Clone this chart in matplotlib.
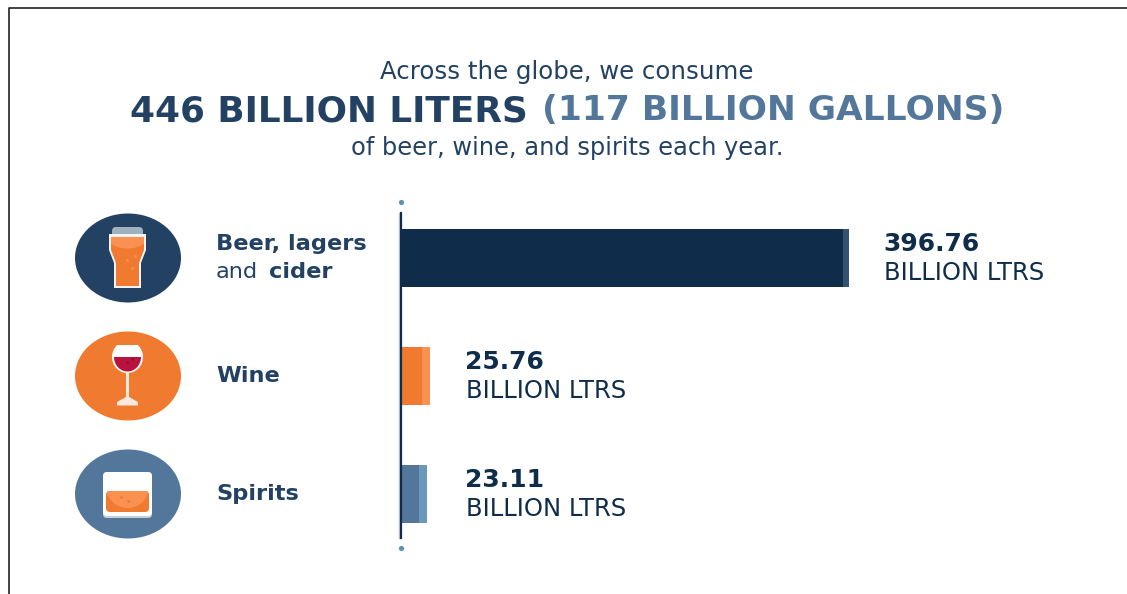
import matplotlib
matplotlib.use('Agg')
import matplotlib.pyplot as plt
from matplotlib.patches import Ellipse, Polygon, Rectangle, FancyBboxPatch

categories = ['Beer', 'Wine', 'Spirits']
values = [396.76, 25.76, 23.11]
value_labels = ['396.76', '25.76', '23.11']
unit_label = 'BILLION LTRS'
label_pads = [34, 35, 38]
tip_widths = [5.3, 7, 7]

NAVY = '#0f2d4a'
DARK_BLUE = '#234263'
STEEL = '#52779a'
ORANGE = '#f07b30'
LIGHT_ORANGE = '#fb9150'
bar_colors = [NAVY, ORANGE, STEEL]
tip_colors = ['#33536f', LIGHT_ORANGE, '#6a97ba']
icon_colors = [DARK_BLUE, ORANGE, STEEL]

W, H = 1127, 594
plt.rcParams['font.family'] = 'DejaVu Sans'

fig = plt.figure(figsize=(W / 100, H / 100), dpi=100, facecolor='white')

# overlay in pixel units for the frame, headline and icons
bg = fig.add_axes([0, 0, 1, 1])
bg.set_xlim(0, W)
bg.set_ylim(H, 0)
bg.axis('off')


def clipped(patch, clip):
    bg.add_patch(patch)
    patch.set_clip_path(clip)
    return patch


bg.plot([8.5, 8.5, W], [H, 7.5, 7.5], color='#222222', lw=1.2)

bg.text(567, 71.5, 'Across the globe, we consume', ha='center', va='center',
        fontsize=17.6, color=DARK_BLUE)
bg.text(130, 111, '446 BILLION LITERS', ha='left', va='center', fontsize=25.8,
        fontweight='bold', color=DARK_BLUE)
bg.text(1004, 111, '(117 BILLION GALLONS)', ha='right', va='center', fontsize=24.8,
        fontweight='bold', color=STEEL)
bg.text(567, 148.5, 'of beer, wine, and spirits each year.', ha='center', va='center',
        fontsize=17.4, color=DARK_BLUE)

# round badges
for cy, c in zip([258, 376, 494], icon_colors):
    bg.add_patch(Ellipse((128, cy), 106, 89, color=c, lw=0))

# pint glass
bg.add_patch(FancyBboxPatch((112, 227), 31, 10, boxstyle='round,pad=0,rounding_size=4',
                            fc='#9fb0bf', ec='none'))
bg.add_patch(Polygon([(109, 234), (146, 234), (146, 250), (141, 263), (141, 288), (114, 288),
                      (114, 263), (109, 250)], fc='#f3f3f3', ec='none'))
pint = Polygon([(111, 237), (144, 237), (144, 250), (139, 263), (139, 286), (116, 286),
                (116, 263), (111, 250)], fc=ORANGE, ec='none')
bg.add_patch(pint)
clipped(Ellipse((127.5, 234), 44, 29, fc=LIGHT_ORANGE, ec='none'), pint)
bg.scatter([127, 135, 132], [260, 256, 268], s=4, color=LIGHT_ORANGE, lw=0, zorder=3)

# wine glass
top_cut = Rectangle((105, 345), 45, 40, fc='none', ec='none')
bg.add_patch(top_cut)
clipped(Ellipse((127.5, 357), 31, 32, fc='white', ec='none'), top_cut)
wine_cut = Rectangle((105, 357), 45, 20, fc='none', ec='none')
bg.add_patch(wine_cut)
clipped(Ellipse((127.5, 357), 27, 29, fc='#b8123e', ec='none', zorder=2), wine_cut)
bg.scatter([127, 132], [362, 359], s=3, color='#8e0f30', lw=0, zorder=3)
bg.add_patch(Rectangle((126, 372), 3.2, 30, fc='#fbe9df', ec='none'))
bg.add_patch(Polygon([(126, 397), (129.2, 397), (138, 402), (138, 405.5), (117, 405.5), (117, 402)],
                     fc='#fbe9df', ec='none'))

# tumbler
bg.add_patch(FancyBboxPatch((103, 473), 49, 45, boxstyle='round,pad=0,rounding_size=4',
                            fc='#c5d0da', ec='none'))
bg.add_patch(FancyBboxPatch((103, 472), 49, 44, boxstyle='round,pad=0,rounding_size=4',
                            fc='white', ec='none'))
liquid = FancyBboxPatch((106, 491), 43, 21, boxstyle='round,pad=0,rounding_size=4',
                        fc=ORANGE, ec='none', zorder=2)
bg.add_patch(liquid)
clipped(Ellipse((127.5, 488), 42, 40, fc=LIGHT_ORANGE, ec='none', zorder=2.1), liquid)
bg.scatter([121, 128], [497, 501], s=4, color=ORANGE, lw=0, zorder=3)

bg.text(216, 243.5, 'Beer, lagers', ha='left', va='center', fontsize=16.2,
        fontweight='bold', color=DARK_BLUE)
bg.text(216, 272, 'and', ha='left', va='center', fontsize=16.2, color=DARK_BLUE)
bg.text(269, 272, 'cider', ha='left', va='center', fontsize=16.2,
        fontweight='bold', color=DARK_BLUE)
bg.text(216, 375.5, 'Wine', ha='left', va='center', fontsize=16.2,
        fontweight='bold', color=DARK_BLUE)
bg.text(216, 493.5, 'Spirits', ha='left', va='center', fontsize=16.2,
        fontweight='bold', color=DARK_BLUE)

# end dots of the axis line and its soft shadow
bg.scatter([401, 401], [202, 548], s=14, color='#5b93ae', lw=0)
bg.plot([399.3, 399.3], [213, 538], color='#c3c9d0', lw=1)

# bars, x axis runs in billion liters at 1.129 px per unit
px = 1.129
ax = fig.add_axes([401 / W, (H - 538) / H, (W - 401) / W, 325 / H])
ax.patch.set_alpha(0)
ax.set_xlim(0, (W - 401) / px)
ax.set_ylim(280 / 118, -45 / 118)
for s in ['top', 'right', 'bottom']:
    ax.spines[s].set_visible(False)
ax.spines['left'].set_color(NAVY)
ax.spines['left'].set_linewidth(1.6)
ax.set_xticks([])
ax.set_yticks([])

pos = list(range(len(categories)))
ax.barh(pos, values, height=58 / 118, color=tip_colors, lw=0)
ax.barh(pos, [v - t for v, t in zip(values, tip_widths)], height=58 / 118, color=bar_colors, lw=0)

for i, (v, lab, pad) in enumerate(zip(values, value_labels, label_pads)):
    ax.annotate(lab, (v, i), xytext=(pad, 14), textcoords='offset pixels', ha='left',
                va='center', fontsize=18, fontweight='bold', color=NAVY)
    ax.annotate(unit_label, (v, i), xytext=(pad + 1, -14.5), textcoords='offset pixels', ha='left',
                va='center', fontsize=17.5, color=NAVY)

fig.savefig('out.png', dpi=100)
